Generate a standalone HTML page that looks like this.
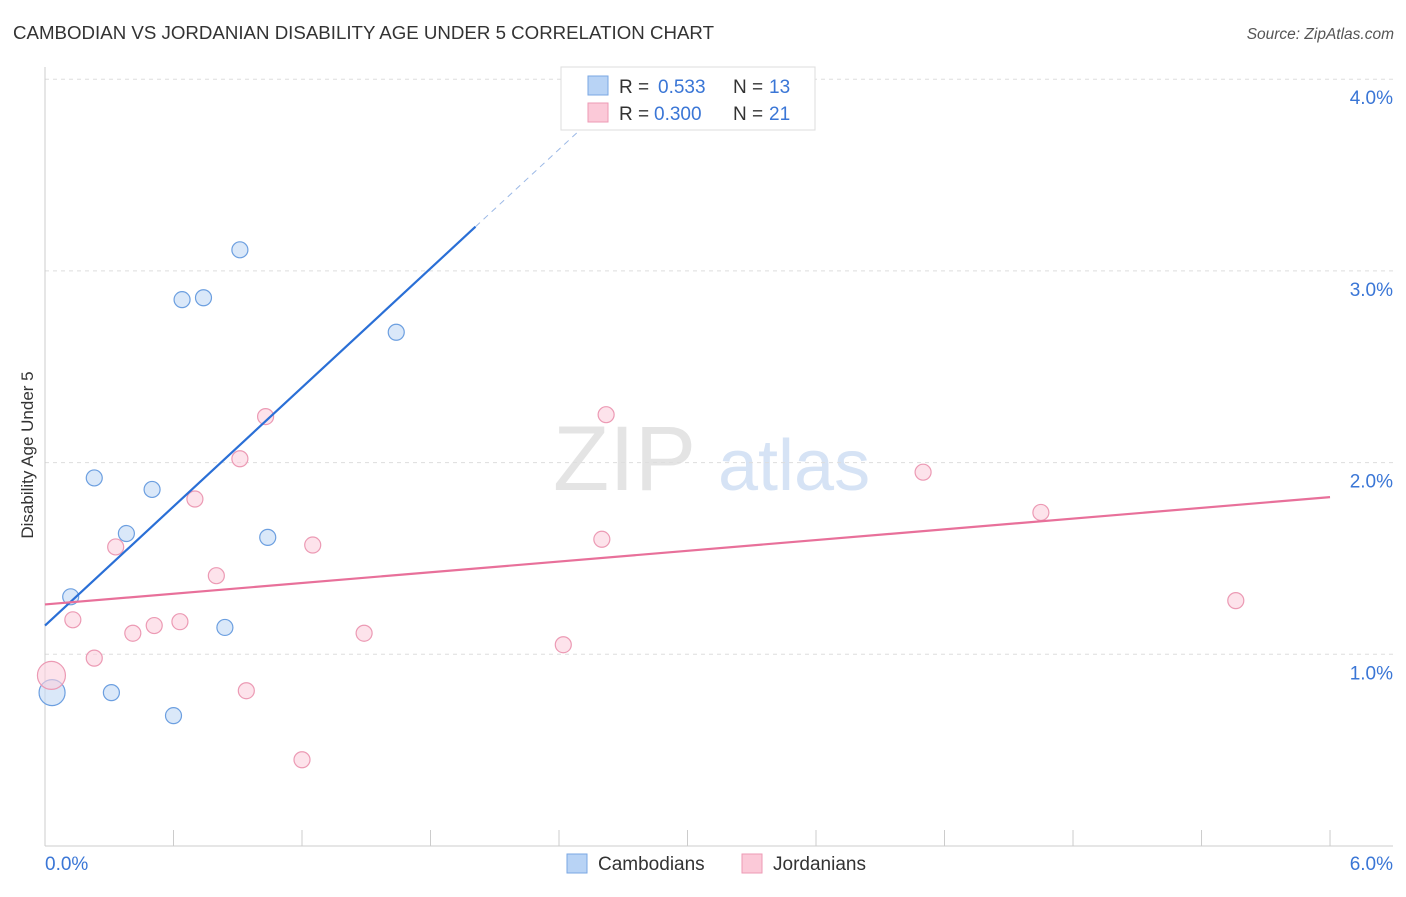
<!DOCTYPE html>
<html><head><meta charset="utf-8">
<style>
body{margin:0;background:#fff;font-family:"Liberation Sans",sans-serif;}
svg text{font-family:"Liberation Sans",sans-serif;}
</style></head>
<body>
<svg id="chart" width="1406" height="892" viewBox="0 0 1406 892" xmlns="http://www.w3.org/2000/svg">
<text x="13" y="39" font-size="18" fill="#333" textLength="701" lengthAdjust="spacingAndGlyphs">CAMBODIAN VS JORDANIAN DISABILITY AGE UNDER 5 CORRELATION CHART</text>
<text x="1394" y="39" font-size="15.5" fill="#555" text-anchor="end" font-style="italic">Source: ZipAtlas.com</text>
<g>
<text x="553" y="490" font-size="92" fill="#e4e4e4" font-family="Liberation Serif" >ZIP</text>
<text x="718" y="490" font-size="72" fill="#d6e3f5">atlas</text>
</g>
<text transform="translate(33,455) rotate(-90)" font-size="17" fill="#333" text-anchor="middle">Disability Age Under 5</text>
<g id="grid"></g>
<g id="axes"></g>
<g id="marks"></g>
<g>
<rect x="561" y="67" width="254" height="63" fill="#fff" stroke="#ddd"/>
<rect x="588" y="76" width="20" height="19" fill="#b8d3f5" stroke="#7aa7e3"/>
<rect x="588" y="103" width="20" height="19" fill="#fbc9d8" stroke="#ee9ab5"/>
<text x="619" y="93" font-size="19" fill="#333">R =</text>
<text x="658" y="93" font-size="19" fill="#3a76d6">0.533</text>
<text x="733" y="93" font-size="19" fill="#333">N =</text>
<text x="769" y="93" font-size="19" fill="#3a76d6">13</text>
<text x="619" y="120" font-size="19" fill="#333">R =</text>
<text x="654" y="120" font-size="19" fill="#3a76d6">0.300</text>
<text x="733" y="120" font-size="19" fill="#333">N =</text>
<text x="769" y="120" font-size="19" fill="#3a76d6">21</text>
</g>
<g>
<rect x="567" y="854" width="20" height="19" fill="#b8d3f5" stroke="#7aa7e3"/>
<text x="598" y="870" font-size="19" fill="#333">Cambodians</text>
<rect x="742" y="854" width="20" height="19" fill="#fbc9d8" stroke="#ee9ab5"/>
<text x="773" y="870" font-size="19" fill="#333">Jordanians</text>
</g>
</svg>
<script>
const yTicks=[1,2,3,4];
const yTickLabels=["1.0%","2.0%","3.0%","4.0%"];
const xTickLabels=["0.0%","6.0%"];
const camX=[0.033,0.12,0.23,0.31,0.38,0.50,0.60,0.64,0.74,0.84,0.91,1.04,1.64];
const camY=[0.80,1.30,1.92,0.80,1.63,1.86,0.68,2.85,2.86,1.14,3.11,1.61,2.68];
const jorX=[0.03,0.13,0.23,0.33,0.41,0.51,0.63,0.70,0.80,0.91,0.94,1.03,1.20,1.25,1.49,2.42,2.60,2.62,4.10,4.65,5.56];
const jorY=[0.89,1.18,0.98,1.56,1.11,1.15,1.17,1.81,1.41,2.02,0.81,2.24,0.45,1.57,1.11,1.05,1.60,2.25,1.95,1.74,1.28];
const camTrend=[1.15,1.035];
const jorTrend=[1.26,0.0933];
const NS="http://www.w3.org/2000/svg";
const X=v=>45+v*214.17, Y=v=>846-v*191.7;
function mk(t,a,p){const e=document.createElementNS(NS,t);for(const k in a)e.setAttribute(k,a[k]);p.appendChild(e);return e;}
const grid=document.getElementById('grid'),axes=document.getElementById('axes'),marks=document.getElementById('marks');
yTicks.forEach((t,i)=>{
 const l=mk('line',{x1:45,x2:1393,y1:Y(t),y2:Y(t),stroke:'#ddd','stroke-dasharray':'4,4'},grid);
 
 
 const tx=mk('text',{x:1393,y:Y(t)+25,'font-size':19,fill:'#3a76d6','text-anchor':'end'},axes);
 tx.textContent=yTickLabels[i];
 
 
});
const xa=mk('line',{x1:45,x2:1393,y1:846,y2:846,stroke:'#ccc'},axes);


const ya=mk('line',{x1:45,x2:45,y1:67,y2:846,stroke:'#ccc'},axes);


for(let i=0;i<=10;i++){const t=mk('line',{x1:X(i*0.6),x2:X(i*0.6),y1:830,y2:846,stroke:'#ccc'},axes);
 
 }
[[0,45,'start'],[6,1393,'end']].forEach((d,i)=>{const t=mk('text',{x:d[1],y:870,'font-size':19,fill:'#3a76d6','text-anchor':d[2]},axes);t.textContent=xTickLabels[i];
 
 });
function pts(xs,ys,fill,stroke,name,big){xs.forEach((x,i)=>{const c=mk('circle',{cx:X(x),cy:Y(ys[i]),r:i===0?big:8,fill:fill,'fill-opacity':0.6,stroke:stroke,'stroke-width':1.2},marks);
 
 });}
pts(camX,camY,'#c2d8f5','#6c9fe0','cambodian-point',13);
pts(jorX,jorY,'#fbd0dd','#ec9ab4','jordanian-point',14);
const cl=mk('line',{x1:X(0),y1:Y(camTrend[0]),x2:X(2.01),y2:Y(camTrend[0]+camTrend[1]*2.01),stroke:'#2a6fd6','stroke-width':2.2},marks);


const cd=mk('line',{x1:X(2.01),y1:Y(camTrend[0]+camTrend[1]*2.01),x2:X(2.6),y2:Y(camTrend[0]+camTrend[1]*2.6),stroke:'#9bb8e6','stroke-width':1,'stroke-dasharray':'6,5'},marks);


const jl=mk('line',{x1:X(0),y1:Y(jorTrend[0]),x2:X(6),y2:Y(jorTrend[0]+jorTrend[1]*6),stroke:'#e8709a','stroke-width':2.2},marks);


</script>
</body></html>
